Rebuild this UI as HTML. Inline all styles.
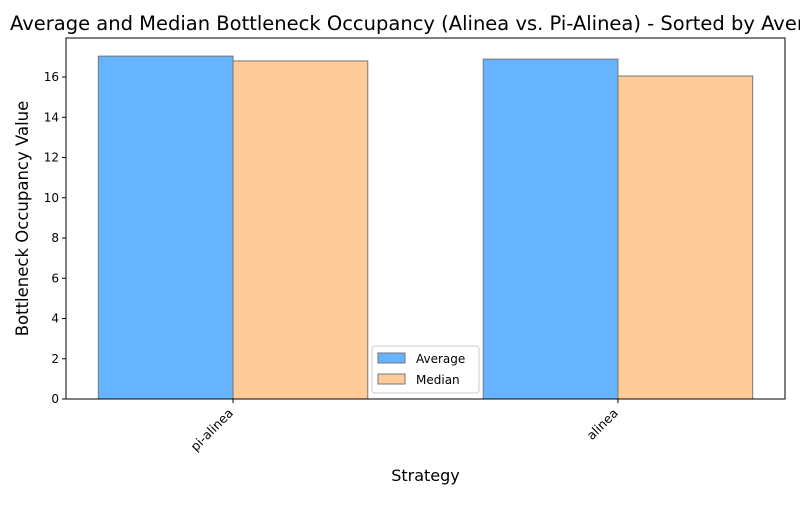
<!DOCTYPE html>
<html><head><meta charset="utf-8"><style>
body{margin:0;background:#fff;font-family:"Liberation Sans","DejaVu Sans",sans-serif;}
svg text{font-family:"DejaVu Sans","Liberation Sans",sans-serif;}
</style></head><body>
<svg id="chart" width="800" height="500" xmlns="http://www.w3.org/2000/svg">
<rect width="800" height="500" fill="#fff"/>
<text x="10" y="30" text-anchor="start" font-size="19.5" fill="#000">Average and Median Bottleneck Occupancy (Alinea vs. Pi-Alinea) - Sorted by Average</text>
<g id="plot"></g>
</svg>
<script>
const categories = ["pi-alinea", "alinea"];
const averageValues = [17.04, 16.89];
const medianValues = [16.80, 16.05];
const yTicks = [0, 2, 4, 6, 8, 10, 12, 14, 16];
const seriesNames = ["Average", "Median"];

const L = 66, R = 785, T = 38, B = 399;
const yMax = 17.94, xMin = -0.434, xMax = 1.434;
const ns = "http://www.w3.org/2000/svg";
const g = document.getElementById("plot");
function y(v){ return B - v / yMax * (B - T); }
function x(v){ return L + (v - xMin) / (xMax - xMin) * (R - L); }
function mk(tag, attrs){ const e = document.createElementNS(ns, tag); for (const k in attrs) e.setAttribute(k, attrs[k]); g.appendChild(e); return e; }
const bw = 0.35;
const colors = ["#66b3ff", "#ffcc99"];
[averageValues, medianValues].forEach((vals, s) => {
  vals.forEach((v, i) => {
    const x0 = x(i - bw + s * bw), x1 = x(i + s * bw);
    const r = mk("rect", {x: x0, y: y(v), width: x1 - x0, height: y(0) - y(v), fill: colors[s], stroke: "#777", "stroke-width": 1});
    
    
  });
});
const frame = mk("rect", {x: L, y: T, width: R - L, height: B - T, fill: "none", stroke: "#000", "stroke-width": 1});


yTicks.forEach(t => {
  mk("line", {x1: L - 4, x2: L, y1: y(t), y2: y(t), stroke: "#000"});
  const tx = mk("text", {x: L - 7, y: y(t) + 4, "text-anchor": "end", "font-size": 12});
  tx.textContent = t;
  
  
});
categories.forEach((c, i) => {
  const cx = x(i);
  mk("line", {x1: cx, x2: cx, y1: B, y2: B + 4, stroke: "#000"});
  const tx = mk("text", {x: cx - 2, y: B + 16, "text-anchor": "end", "font-size": 12.5, transform: `rotate(-45 ${cx - 2} ${B + 12})`});
  tx.textContent = c;
  
  
});
const xt = mk("text", {x: (L + R) / 2, y: 481, "text-anchor": "middle", "font-size": 16});
xt.textContent = "Strategy";


const yt = mk("text", {x: 28, y: (T + B) / 2, "text-anchor": "middle", "font-size": 16.5, transform: `rotate(-90 28 ${(T + B) / 2})`});
yt.textContent = "Bottleneck Occupancy Value";


const lg = mk("rect", {x: 372, y: 346, width: 107, height: 47, fill: "#fff", stroke: "#ccc", rx: 3});


seriesNames.forEach((n, s) => {
  const yy = 353 + s * 21;
  const sw = mk("rect", {x: 378, y: yy, width: 27, height: 10, fill: colors[s], stroke: "#777"});
  
  
  const t = mk("text", {x: 416, y: yy + 10, "font-size": 12});
  t.textContent = n;
  
  
});
</script>
</body></html>
